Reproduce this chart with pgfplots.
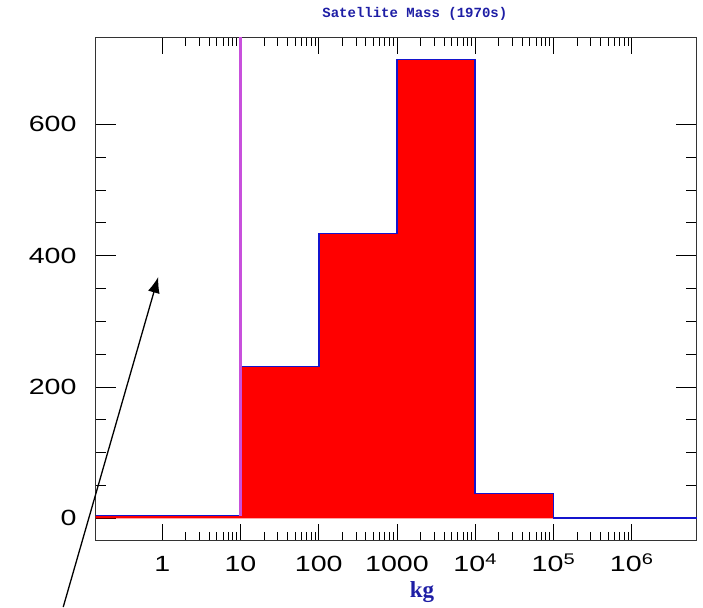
\documentclass[border=0pt]{standalone}
\usepackage{fontspec}
\usepackage{pgfplots}
\pgfplotsset{compat=1.18}
\usepackage{pgfplotstable}
\usetikzlibrary{arrows.meta}
\setmainfont{Liberation Sans}
\newfontfamily\tickfont{Liberation Sans}[FakeStretch=1.3]
\newfontfamily\titlefont{Liberation Mono}
\newfontfamily\labelfont{Liberation Serif}
\definecolor{histred}{RGB}{255,0,0}
\definecolor{histblue}{RGB}{20,20,205}
\definecolor{vline}{RGB}{200,80,220}
\definecolor{titleblue}{RGB}{30,30,165}

% satellite mass histogram, left bin edges (kg) and counts
\pgfplotstableread{
m       n
0.141   4
10      231
100     434
1000    699
1e4     38
1e5     0
6.78e6  0
}\massdata

\begin{document}
\begin{tikzpicture}
\begin{axis}[
    scale only axis,
    width=601pt, height=503.4pt,
    xmode=log,
    xmin=0.141, xmax=6.78e6,
    ymin=-34.2, ymax=732.7,
    xtick={1,10,100,1000,1e4,1e5,1e6},
    xticklabels={1,10,100,1000,10\textsuperscript{4},10\textsuperscript{5},10\textsuperscript{6}},
    ytick={0,200,400,600},
    minor y tick num=3,
    tick align=inside,
    tick pos=both,
    major tick length=17pt,
    minor tick length=9pt,
    ytick style={/pgfplots/major tick length=20.5pt,/pgfplots/minor tick length=10.5pt},
    tick style={black, line width=0.9pt},
    axis line style={black!80, line width=1.3pt},
    /pgf/number format/assume math mode=true,
    ticklabel style={font=\tickfont\fontsize{22}{25}\selectfont},
    xticklabel style={anchor=base, inner sep=0pt, yshift=-31pt},
    yticklabel style={anchor=east, inner sep=0pt, xshift=-19pt},
    xlabel={kg},
    xlabel style={at={(axis description cs:0.543,0)}, anchor=base, yshift=-57pt,
        font=\labelfont\bfseries\fontsize{23}{25}\selectfont, text=titleblue},
    title={Satellite Mass (1970s)},
    title style={at={(axis description cs:0.531,1)}, anchor=base, yshift=14pt,
        font=\titlefont\bfseries\fontsize{14}{16}\selectfont, text=titleblue},
    clip=false,
]
\addplot[const plot, fill=histred, draw=none] table[x=m, y=n] {\massdata} \closedcycle;
\addplot[const plot, histblue, line width=1.6pt] table[x=m, y=n] {\massdata};
\addplot[vline, line width=2.6pt] coordinates {(10,4) (10,732.7)};
\draw[-{Latex[length=16pt, width=12pt]}, line width=1.3pt]
    (axis cs:0.0542,-135.3) -- (axis cs:0.889,367.7);
\end{axis}
\pgfresetboundingbox
\path ([xshift=-95.7pt, yshift=-66.3pt]current axis.south west)
    rectangle ([xshift=6.3pt, yshift=37.3pt]current axis.north east);
\end{tikzpicture}
\end{document}
